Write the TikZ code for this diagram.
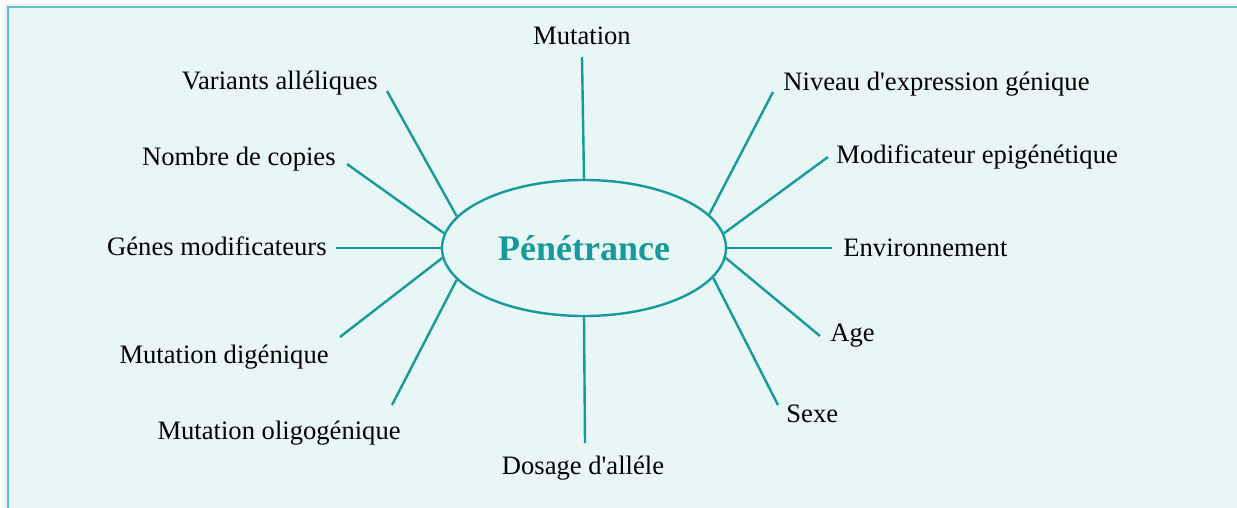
\documentclass[tikz,border=0pt]{standalone}
\usepackage{fontspec}
\setmainfont{Liberation Serif}
\usepackage{tikz}
\usetikzlibrary{shapes.geometric,positioning}
\definecolor{tealline}{RGB}{22,154,156}
\definecolor{boxfill}{RGB}{233,246,246}
\definecolor{boxedge}{RGB}{96,196,196}
\tikzset{
  % lijnen van de ellips naar de factoren
  spoke/.style={draw=tealline,line width=1.2pt},
  % node stijlen
  centre/.style={ellipse,draw=tealline,line width=1.2pt,inner sep=0pt,
    minimum width=142pt,minimum height=68pt,text=tealline,
    font=\fontsize{18}{20}\selectfont\bfseries},
  factor/.style={inner sep=0pt,font=\fontsize{13.3}{15}\selectfont,
    text height=9pt,text depth=3pt},
}
\begin{document}
\begin{tikzpicture}[x=0.5pt,y=-0.5pt]
  \useasboundingbox (0,0) rectangle (1237,508);
  % achtergrond
  \draw[black!7,line width=3pt] (8,7) rectangle (1250,520);
  \draw[boxedge,fill=boxfill,line width=0.8pt] (8,7) rectangle (1250,520);
  \node[centre] (pen) at (584,248) {Pénétrance};
  % eindpunten van de lijnen
  \coordinate (mut) at (582,57);
  \coordinate (niv) at (773,92);
  \coordinate (epi) at (828,157);
  \coordinate (env) at (832,248);
  \coordinate (age) at (820,336);
  \coordinate (sex) at (778,405);
  \coordinate (dos) at (585,443);
  \coordinate (oli) at (392,405);
  \coordinate (dig) at (340,337);
  \coordinate (gen) at (336,248);
  \coordinate (cop) at (347,164);
  \coordinate (var) at (387,91);
  \draw[spoke] (pen.90) -- (mut);
  \draw[spoke] (pen.15.8) -- (niv);
  \draw[spoke] (pen.6.2) -- (epi);
  \draw[spoke] (pen.0) -- (env);
  \draw[spoke] (pen.-4.9) -- (age);
  \draw[spoke] (pen.-13.2) -- (sex);
  \draw[spoke] (pen.-90) -- (dos);
  \draw[spoke] (pen.194.1) -- (oli);
  \draw[spoke] (pen.184.8) -- (dig);
  \draw[spoke] (pen.180) -- (gen);
  \draw[spoke] (pen.174) -- (cop);
  \draw[spoke] (pen.166) -- (var);
  % labels
  \node[factor] (mutlab) at (582,39) {Mutation};
  \node[factor,anchor=west] (nivlab) at (783,85) {Niveau d\textquotesingle expression génique};
  \node[factor,anchor=west] (epilab) at (836,157) {Modificateur epigénétique};
  \node[factor,anchor=west] (envlab) at (843,250) {Environnement};
  \node[factor,anchor=west] (agelab) at (830,335) {Age};
  \node[factor,anchor=west] (sexlab) at (786,416) {Sexe};
  \node[factor] (doslab) at (583,468) {Dosage d\textquotesingle alléle};
  \node[factor,anchor=east] (olilab) at (401,433) {Mutation oligogénique};
  \node[factor,anchor=east] (diglab) at (329,357) {Mutation digénique};
  \node[factor,anchor=east] (genlab) at (327,249) {Génes modificateurs};
  \node[factor,anchor=east] (coplab) at (336,160) {Nombre de copies};
  \node[factor,anchor=east] (varlab) at (378,84) {Variants alléliques};
\end{tikzpicture}
\end{document}
